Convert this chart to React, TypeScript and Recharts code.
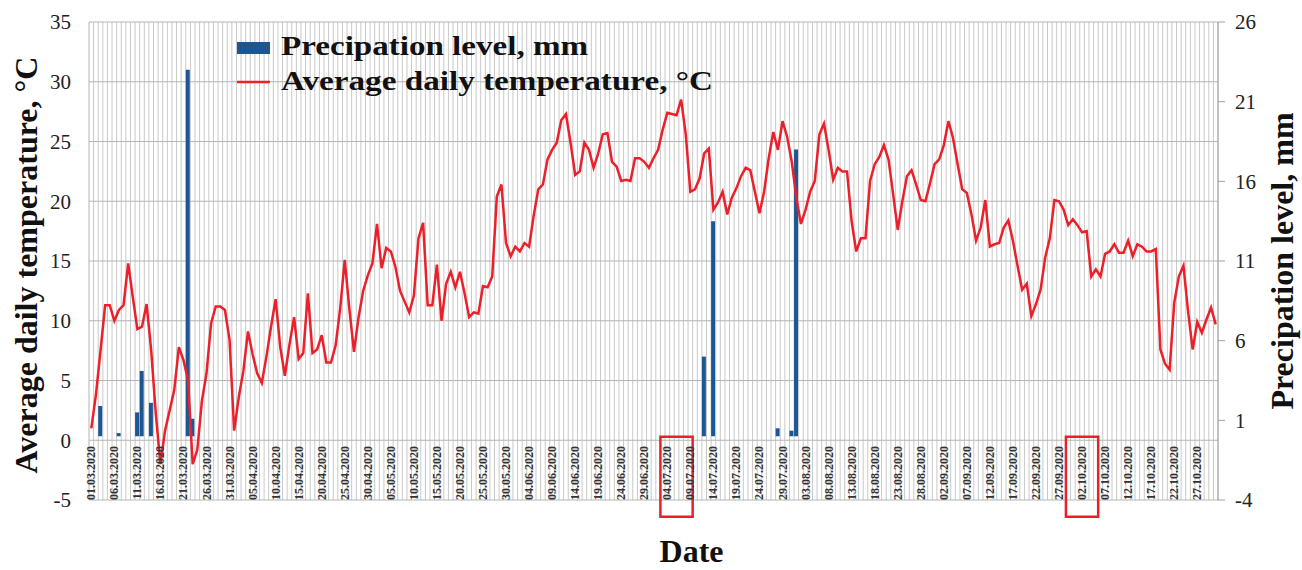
import { ComposedChart, Bar, Line, XAxis, YAxis, CartesianGrid, Legend, ReferenceArea } from "recharts";

const FONT = '"Liberation Serif", "Times New Roman", serif';
const BLUE = "#1d5791";
const RED = "#ec1f2a";

// day labels 01.03.2020 ... 31.10.2020
const months: [string, number][] = [
  ["03", 31], ["04", 30], ["05", 31], ["06", 30],
  ["07", 31], ["08", 31], ["09", 30], ["10", 31],
];
const dates = months.flatMap(([m, n]) =>
  Array.from({ length: n }, (_, d) => `${String(d + 1).padStart(2, "0")}.${m}.2020`)
);

// average daily temperature, °C
const tempMar = [1.0, 3.8, 7.5, 11.3, 11.3, 10.0, 10.9, 11.3, 14.8, 12.0, 9.3, 9.5, 11.4, 7.5, 2.2, -2.0, 0.8, 2.5, 4.2, 7.8, 6.7, 5.0, -2.0, -0.8, 3.3, 5.6, 9.8, 11.2, 11.2, 10.9, 8.4];
const tempApr = [0.8, 3.6, 5.8, 9.1, 7.2, 5.6, 4.8, 7.0, 9.5, 11.8, 7.8, 5.4, 8.0, 10.3, 6.8, 7.3, 12.3, 7.3, 7.6, 8.8, 6.5, 6.5, 7.9, 11.0, 15.1, 11.0, 7.4, 10.3, 12.5, 13.8];
const tempMay = [14.8, 18.1, 14.4, 16.1, 15.8, 14.5, 12.5, 11.6, 10.7, 12.1, 16.9, 18.2, 11.3, 11.3, 14.7, 10.0, 13.1, 14.1, 12.8, 14.1, 12.3, 10.3, 10.7, 10.6, 12.9, 12.8, 13.7, 20.4, 21.4, 16.5, 15.4];
const tempJun = [16.2, 15.8, 16.5, 16.2, 18.8, 21.0, 21.4, 23.5, 24.3, 24.9, 26.8, 27.3, 24.9, 22.2, 22.5, 24.9, 24.3, 22.8, 24.0, 25.6, 25.7, 23.3, 22.9, 21.7, 21.8, 21.7, 23.6, 23.6, 23.3, 22.8];
const tempJul = [23.6, 24.3, 26.0, 27.4, 27.3, 27.2, 28.5, 25.6, 20.8, 21.0, 21.9, 24.0, 24.4, 19.3, 19.9, 20.8, 18.9, 20.3, 21.1, 22.1, 22.8, 22.6, 20.8, 19.0, 20.8, 23.6, 25.8, 24.3, 26.7, 25.4, 23.3];
const tempAug = [20.3, 18.1, 19.3, 20.8, 21.7, 25.6, 26.5, 24.3, 21.8, 22.8, 22.5, 22.5, 18.3, 15.8, 16.9, 16.9, 21.7, 23.1, 23.7, 24.7, 23.5, 20.6, 17.6, 20.0, 22.1, 22.6, 21.4, 20.1, 20.0, 21.5, 23.1];
const tempSep = [23.5, 24.7, 26.7, 25.3, 23.1, 21.0, 20.7, 18.9, 16.7, 17.8, 20.1, 16.2, 16.4, 16.5, 17.8, 18.4, 16.7, 14.6, 12.6, 13.1, 10.4, 11.4, 12.6, 15.3, 16.9, 20.1, 20.0, 19.3, 18.0, 18.5];
const tempOct = [18.0, 17.4, 17.5, 13.7, 14.3, 13.7, 15.6, 15.8, 16.4, 15.7, 15.7, 16.7, 15.4, 16.4, 16.2, 15.8, 15.8, 16.0, 7.6, 6.4, 5.9, 11.5, 13.7, 14.6, 10.8, 7.6, 9.9, 9.0, 10.1, 11.1, 9.7];
const temperature = [...tempMar, ...tempApr, ...tempMay, ...tempJun, ...tempJul, ...tempAug, ...tempSep, ...tempOct];

// precipitation, mm (only days with rain)
const rainDates = ["03.03.2020", "07.03.2020", "11.03.2020", "12.03.2020", "14.03.2020", "22.03.2020", "23.03.2020", "12.07.2020", "14.07.2020", "28.07.2020", "31.07.2020", "01.08.2020"];
const rainMm = [1.9, 0.2, 1.5, 4.1, 2.1, 23.0, 1.1, 5.0, 13.5, 0.5, 0.35, 18.0];

const leftTicks = [-5, 0, 5, 10, 15, 20, 25, 30, 35];
const rightTicks = [-4, 1, 6, 11, 16, 21, 26];

const rows = dates.map((date, i) => {
  const k = rainDates.indexOf(date);
  return { date, temp: temperature[i], rain: k >= 0 ? rainMm[k] : null };
});

// one vertical grid line per day (at the end of each day's band)
const dayLines = ({ xAxis, offset }: any) => {
  const s = xAxis?.scale;
  if (typeof s === "function") {
    const bw = typeof s.bandwidth === "function" ? s.bandwidth() : 0;
    return dates.map((d) => s(d) + bw);
  }
  const step = offset.width / dates.length;
  return dates.map((_, i) => offset.left + (i + 1) * step);
};

const DateTick = ({ x, y, payload }: any) => (
  <text
    transform={`translate(${x + 4},${y - 54}) rotate(-90)`}
    textAnchor="end"
    fontFamily={FONT}
    fontSize={12}
    fontWeight="bold"
    fill="#333"
  >
    {payload.value}
  </text>
);

const titleStyle = { fontFamily: FONT, fontWeight: "bold" as const, fill: "#111" };

const LeftTitle = ({ viewBox }: any) => (
  <text
    transform={`translate(${viewBox.x + 37},${viewBox.y + viewBox.height / 2 + 4}) rotate(-90)`}
    textAnchor="middle"
    fontSize={32}
    {...titleStyle}
  >
    Average daily temperature, °C
  </text>
);

const RightTitle = ({ viewBox }: any) => (
  <text
    transform={`translate(${viewBox.x + 75},${viewBox.y + viewBox.height / 2}) rotate(-90)`}
    textAnchor="middle"
    fontSize={32}
    {...titleStyle}
  >
    Precipation level, mm
  </text>
);

const DateTitle = ({ viewBox }: any) => (
  <text
    x={viewBox.x + viewBox.width / 2 + 38}
    y={viewBox.y + 62}
    textAnchor="middle"
    fontSize={32}
    {...titleStyle}
  >
    Date
  </text>
);

const ChartLegend = () => (
  <svg width={500} height={80}>
    <rect x={7} y={12} width={33} height={12} fill={BLUE} />
    <text x={51} y={25} fontSize={27} textLength={307} lengthAdjust="spacingAndGlyphs" {...titleStyle}>
      Precipation level, mm
    </text>
    <line x1={7} x2={40} y1={52} y2={52} stroke={RED} strokeWidth={2.5} />
    <text x={51} y={60} fontSize={27} textLength={432} lengthAdjust="spacingAndGlyphs" {...titleStyle}>
      Average daily temperature, °C
    </text>
  </svg>
);

export default function App() {
  return (
    <div style={{ position: "absolute", left: 0, top: 0, background: "#fff" }}>
      <ComposedChart
        width={1302}
        height={570}
        data={rows}
        margin={{ top: 22, right: 0, bottom: 0, left: 0 }}
      >
        <CartesianGrid
          yAxisId="left"
          horizontal={false}
          stroke="#c9c9c9"
          verticalCoordinatesGenerator={dayLines}
        />
        <CartesianGrid yAxisId="left" vertical={false} stroke="#b5b5b5" />
        <XAxis
          dataKey="date"
          interval={4}
          tickLine={false}
          axisLine={false}
          tickSize={0}
          tickMargin={0}
          height={70}
          tick={<DateTick />}
          label={<DateTitle />}
        />
        <YAxis
          yAxisId="left"
          domain={[-5, 35]}
          ticks={leftTicks}
          width={89}
          axisLine={{ stroke: "#b5b5b5" }}
          tickLine={false}
          tickSize={0}
          tickMargin={18}
          tick={{ fontFamily: FONT, fontSize: 21, fill: "#222" }}
          label={<LeftTitle />}
        />
        <YAxis
          yAxisId="right"
          orientation="right"
          domain={[-4, 26]}
          ticks={rightTicks}
          width={84}
          axisLine={{ stroke: "#a0a0a0" }}
          tickLine={{ stroke: "#a0a0a0" }}
          tickSize={7}
          tickMargin={10}
          tick={{ fontFamily: FONT, fontSize: 21, fill: "#222" }}
          label={<RightTitle />}
        />
        <Bar yAxisId="right" dataKey="rain" fill={BLUE} barSize={4} isAnimationActive={false} />
        <Line
          yAxisId="left"
          type="linear"
          dataKey="temp"
          stroke={RED}
          strokeWidth={2.5}
          dot={false}
          activeDot={false}
          isAnimationActive={false}
        />
        <ReferenceArea
          yAxisId="left"
          x1="03.07.2020"
          x2="09.07.2020"
          y1={-6.4}
          y2={0.3}
          fill="none"
          stroke="#e8202a"
          strokeWidth={2.5}
          ifOverflow="visible"
        />
        <ReferenceArea
          yAxisId="left"
          x1="29.09.2020"
          x2="05.10.2020"
          y1={-6.4}
          y2={0.3}
          fill="none"
          stroke="#e8202a"
          strokeWidth={2.5}
          ifOverflow="visible"
        />
        <Legend
          layout="horizontal"
          verticalAlign="middle"
          align="center"
          content={<ChartLegend />}
          wrapperStyle={{ left: 230, top: 30, width: 500, height: 80 }}
        />
      </ComposedChart>
    </div>
  );
}
